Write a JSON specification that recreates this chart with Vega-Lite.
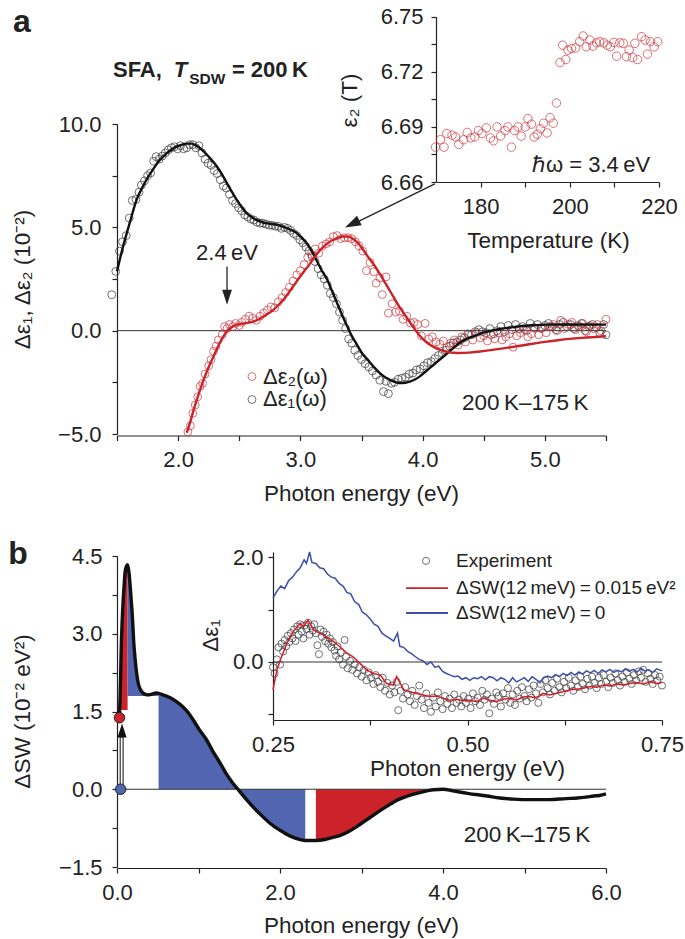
{
"$schema": "https://vega.github.io/schema/vega-lite/v6.json",
"width": 685, "height": 939, "padding": 0, "autosize": {"type": "none"},
"background": "white",
"config": {
  "font": "Liberation Sans",
  "view": {"stroke": null},
  "axis": {"domainColor": "#222", "tickColor": "#222", "labelColor": "#222", "titleColor": "#222", "labelFont": "Liberation Sans", "titleFont": "Liberation Sans", "labelFontSize": 22, "titleFontSize": 22.5, "titleFontWeight": "normal", "grid": false, "tickSize": 5, "domainWidth": 1.2, "tickWidth": 1.2, "labelFlush": false, "labelOverlap": false, "titleBaseline": "middle", "titleAlign": "center"},
  "text": {"font": "Liberation Sans", "color": "#222"}
},
"datasets": {
  "a_fit": [
    {"E":1.5,"v":2.87,"s":"e1"},{"E":1.54,"v":3.85,"s":"e1"},{"E":1.58,"v":4.72,"s":"e1"},{"E":1.62,"v":5.55,"s":"e1"},{"E":1.66,"v":6.33,"s":"e1"},{"E":1.7,"v":6.85,"s":"e1"},{"E":1.74,"v":7.29,"s":"e1"},{"E":1.8,"v":7.85,"s":"e1"},{"E":1.85,"v":8.26,"s":"e1"},{"E":1.9,"v":8.55,"s":"e1"},{"E":1.96,"v":8.82,"s":"e1"},{"E":2.02,"v":8.98,"s":"e1"},{"E":2.07,"v":9.05,"s":"e1"},{"E":2.11,"v":9.05,"s":"e1"},{"E":2.15,"v":8.95,"s":"e1"},{"E":2.19,"v":8.78,"s":"e1"},{"E":2.23,"v":8.55,"s":"e1"},{"E":2.28,"v":8.22,"s":"e1"},{"E":2.32,"v":7.92,"s":"e1"},{"E":2.36,"v":7.55,"s":"e1"},{"E":2.4,"v":7.13,"s":"e1"},{"E":2.44,"v":6.72,"s":"e1"},{"E":2.48,"v":6.33,"s":"e1"},{"E":2.52,"v":5.98,"s":"e1"},{"E":2.56,"v":5.68,"s":"e1"},{"E":2.6,"v":5.5,"s":"e1"},{"E":2.64,"v":5.36,"s":"e1"},{"E":2.68,"v":5.27,"s":"e1"},{"E":2.72,"v":5.2,"s":"e1"},{"E":2.77,"v":5.16,"s":"e1"},{"E":2.81,"v":5.12,"s":"e1"},{"E":2.85,"v":5.05,"s":"e1"},{"E":2.89,"v":4.96,"s":"e1"},{"E":2.93,"v":4.86,"s":"e1"},{"E":2.97,"v":4.72,"s":"e1"},{"E":3.01,"v":4.5,"s":"e1"},{"E":3.05,"v":4.24,"s":"e1"},{"E":3.09,"v":3.88,"s":"e1"},{"E":3.13,"v":3.43,"s":"e1"},{"E":3.17,"v":2.96,"s":"e1"},{"E":3.22,"v":2.46,"s":"e1"},{"E":3.26,"v":1.9,"s":"e1"},{"E":3.3,"v":1.34,"s":"e1"},{"E":3.34,"v":0.77,"s":"e1"},{"E":3.38,"v":0.25,"s":"e1"},{"E":3.42,"v":-0.25,"s":"e1"},{"E":3.46,"v":-0.65,"s":"e1"},{"E":3.5,"v":-1.05,"s":"e1"},{"E":3.55,"v":-1.4,"s":"e1"},{"E":3.6,"v":-1.75,"s":"e1"},{"E":3.65,"v":-2.05,"s":"e1"},{"E":3.7,"v":-2.28,"s":"e1"},{"E":3.75,"v":-2.43,"s":"e1"},{"E":3.81,"v":-2.53,"s":"e1"},{"E":3.86,"v":-2.52,"s":"e1"},{"E":3.9,"v":-2.45,"s":"e1"},{"E":3.94,"v":-2.35,"s":"e1"},{"E":3.98,"v":-2.2,"s":"e1"},{"E":4.02,"v":-2.0,"s":"e1"},{"E":4.06,"v":-1.8,"s":"e1"},{"E":4.1,"v":-1.6,"s":"e1"},{"E":4.14,"v":-1.4,"s":"e1"},{"E":4.18,"v":-1.2,"s":"e1"},{"E":4.22,"v":-1.0,"s":"e1"},{"E":4.26,"v":-0.8,"s":"e1"},{"E":4.3,"v":-0.6,"s":"e1"},{"E":4.34,"v":-0.46,"s":"e1"},{"E":4.38,"v":-0.35,"s":"e1"},{"E":4.44,"v":-0.22,"s":"e1"},{"E":4.49,"v":-0.11,"s":"e1"},{"E":4.56,"v":0.0,"s":"e1"},{"E":4.63,"v":0.08,"s":"e1"},{"E":4.71,"v":0.15,"s":"e1"},{"E":4.79,"v":0.21,"s":"e1"},{"E":4.9,"v":0.26,"s":"e1"},{"E":5.01,"v":0.29,"s":"e1"},{"E":5.2,"v":0.3,"s":"e1"},{"E":5.5,"v":0.29,"s":"e1"},
    {"E":2.07,"v":-4.94,"s":"e2"},{"E":2.1,"v":-4.4,"s":"e2"},{"E":2.12,"v":-3.98,"s":"e2"},{"E":2.15,"v":-3.4,"s":"e2"},{"E":2.18,"v":-2.85,"s":"e2"},{"E":2.23,"v":-2.05,"s":"e2"},{"E":2.29,"v":-1.24,"s":"e2"},{"E":2.34,"v":-0.6,"s":"e2"},{"E":2.4,"v":-0.03,"s":"e2"},{"E":2.45,"v":0.21,"s":"e2"},{"E":2.49,"v":0.3,"s":"e2"},{"E":2.53,"v":0.34,"s":"e2"},{"E":2.58,"v":0.39,"s":"e2"},{"E":2.62,"v":0.45,"s":"e2"},{"E":2.66,"v":0.55,"s":"e2"},{"E":2.7,"v":0.69,"s":"e2"},{"E":2.74,"v":0.84,"s":"e2"},{"E":2.78,"v":1.01,"s":"e2"},{"E":2.82,"v":1.24,"s":"e2"},{"E":2.86,"v":1.5,"s":"e2"},{"E":2.9,"v":1.8,"s":"e2"},{"E":2.94,"v":2.14,"s":"e2"},{"E":2.98,"v":2.47,"s":"e2"},{"E":3.02,"v":2.79,"s":"e2"},{"E":3.07,"v":3.17,"s":"e2"},{"E":3.11,"v":3.51,"s":"e2"},{"E":3.15,"v":3.82,"s":"e2"},{"E":3.19,"v":4.07,"s":"e2"},{"E":3.23,"v":4.26,"s":"e2"},{"E":3.27,"v":4.4,"s":"e2"},{"E":3.31,"v":4.5,"s":"e2"},{"E":3.35,"v":4.56,"s":"e2"},{"E":3.39,"v":4.55,"s":"e2"},{"E":3.43,"v":4.45,"s":"e2"},{"E":3.47,"v":4.25,"s":"e2"},{"E":3.51,"v":3.95,"s":"e2"},{"E":3.55,"v":3.6,"s":"e2"},{"E":3.6,"v":3.2,"s":"e2"},{"E":3.65,"v":2.75,"s":"e2"},{"E":3.69,"v":2.35,"s":"e2"},{"E":3.73,"v":1.95,"s":"e2"},{"E":3.77,"v":1.55,"s":"e2"},{"E":3.81,"v":1.15,"s":"e2"},{"E":3.86,"v":0.72,"s":"e2"},{"E":3.9,"v":0.37,"s":"e2"},{"E":3.94,"v":0.04,"s":"e2"},{"E":3.98,"v":-0.27,"s":"e2"},{"E":4.02,"v":-0.5,"s":"e2"},{"E":4.06,"v":-0.68,"s":"e2"},{"E":4.1,"v":-0.82,"s":"e2"},{"E":4.14,"v":-0.92,"s":"e2"},{"E":4.18,"v":-1.0,"s":"e2"},{"E":4.22,"v":-1.05,"s":"e2"},{"E":4.26,"v":-1.07,"s":"e2"},{"E":4.3,"v":-1.08,"s":"e2"},{"E":4.38,"v":-1.06,"s":"e2"},{"E":4.45,"v":-1.02,"s":"e2"},{"E":4.57,"v":-0.93,"s":"e2"},{"E":4.7,"v":-0.82,"s":"e2"},{"E":4.85,"v":-0.68,"s":"e2"},{"E":5.0,"v":-0.54,"s":"e2"},{"E":5.12,"v":-0.45,"s":"e2"},{"E":5.3,"v":-0.35,"s":"e2"},{"E":5.5,"v":-0.27,"s":"e2"}
  ],
  "a_pts": [
    {"E":1.457,"v":1.74,"s":"e1"},{"E":1.49,"v":2.87,"s":"e1"},{"E":1.52,"v":3.85,"s":"e1"},{"E":1.545,"v":4.3,"s":"e1"},{"E":1.575,"v":4.6,"s":"e1"},{"E":1.6,"v":5.45,"s":"e1"},{"E":1.625,"v":6.3,"s":"e1"},{"E":1.655,"v":6.35,"s":"e1"},{"E":1.68,"v":6.7,"s":"e1"},{"E":1.7,"v":7.05,"s":"e1"},{"E":1.725,"v":7.25,"s":"e1"},{"E":1.75,"v":7.5,"s":"e1"},{"E":1.775,"v":7.63,"s":"e1"},{"E":1.8,"v":8.2,"s":"e1"},{"E":1.82,"v":8.42,"s":"e1"},{"E":1.845,"v":8.3,"s":"e1"},{"E":1.87,"v":8.45,"s":"e1"},{"E":1.895,"v":8.6,"s":"e1"},{"E":1.92,"v":8.75,"s":"e1"},{"E":1.945,"v":8.85,"s":"e1"},{"E":1.97,"v":8.9,"s":"e1"},{"E":1.995,"v":8.8,"s":"e1"},{"E":2.02,"v":8.95,"s":"e1"},{"E":2.045,"v":8.8,"s":"e1"},{"E":2.07,"v":8.85,"s":"e1"},{"E":2.095,"v":9.0,"s":"e1"},{"E":2.12,"v":9.0,"s":"e1"},{"E":2.145,"v":8.85,"s":"e1"},{"E":2.17,"v":8.95,"s":"e1"},{"E":2.195,"v":8.6,"s":"e1"},{"E":2.22,"v":8.3,"s":"e1"},{"E":2.245,"v":8.1,"s":"e1"},{"E":2.27,"v":8.0,"s":"e1"},{"E":2.295,"v":7.75,"s":"e1"},{"E":2.32,"v":7.6,"s":"e1"},{"E":2.345,"v":7.3,"s":"e1"},{"E":2.37,"v":7.0,"s":"e1"},{"E":2.395,"v":6.9,"s":"e1"},{"E":2.42,"v":6.6,"s":"e1"},{"E":2.445,"v":6.3,"s":"e1"},{"E":2.47,"v":6.15,"s":"e1"},{"E":2.495,"v":5.95,"s":"e1"},{"E":2.52,"v":5.8,"s":"e1"},{"E":2.545,"v":5.6,"s":"e1"},{"E":2.57,"v":5.5,"s":"e1"},{"E":2.595,"v":5.4,"s":"e1"},{"E":2.62,"v":5.35,"s":"e1"},{"E":2.645,"v":5.25,"s":"e1"},{"E":2.67,"v":5.2,"s":"e1"},{"E":2.695,"v":5.2,"s":"e1"},{"E":2.72,"v":5.15,"s":"e1"},{"E":2.745,"v":5.1,"s":"e1"},{"E":2.77,"v":5.1,"s":"e1"},{"E":2.795,"v":5.05,"s":"e1"},{"E":2.82,"v":5.05,"s":"e1"},{"E":2.845,"v":4.95,"s":"e1"},{"E":2.87,"v":5.0,"s":"e1"},{"E":2.895,"v":4.95,"s":"e1"},{"E":2.92,"v":4.85,"s":"e1"},{"E":2.945,"v":4.7,"s":"e1"},{"E":2.97,"v":4.6,"s":"e1"},{"E":2.995,"v":4.4,"s":"e1"},{"E":3.02,"v":4.25,"s":"e1"},{"E":3.045,"v":4.05,"s":"e1"},{"E":3.07,"v":3.85,"s":"e1"},{"E":3.095,"v":3.6,"s":"e1"},{"E":3.12,"v":3.35,"s":"e1"},{"E":3.145,"v":3.0,"s":"e1"},{"E":3.17,"v":2.7,"s":"e1"},{"E":3.195,"v":2.5,"s":"e1"},{"E":3.22,"v":2.2,"s":"e1"},{"E":3.245,"v":1.8,"s":"e1"},{"E":3.27,"v":1.6,"s":"e1"},{"E":3.295,"v":1.3,"s":"e1"},{"E":3.32,"v":0.9,"s":"e1"},{"E":3.345,"v":0.5,"s":"e1"},{"E":3.37,"v":0.1,"s":"e1"},{"E":3.395,"v":-0.4,"s":"e1"},{"E":3.42,"v":-0.6,"s":"e1"},{"E":3.445,"v":-0.95,"s":"e1"},{"E":3.47,"v":-1.2,"s":"e1"},{"E":3.5,"v":-1.4,"s":"e1"},{"E":3.53,"v":-1.6,"s":"e1"},{"E":3.56,"v":-1.75,"s":"e1"},{"E":3.59,"v":-1.95,"s":"e1"},{"E":3.62,"v":-2.15,"s":"e1"},{"E":3.65,"v":-2.4,"s":"e1"},{"E":3.68,"v":-2.95,"s":"e1"},{"E":3.7,"v":-2.45,"s":"e1"},{"E":3.72,"v":-3.05,"s":"e1"},{"E":3.745,"v":-2.55,"s":"e1"},{"E":3.77,"v":-2.5,"s":"e1"},{"E":3.8,"v":-2.35,"s":"e1"},{"E":3.83,"v":-2.3,"s":"e1"},{"E":3.86,"v":-2.25,"s":"e1"},{"E":3.89,"v":-2.1,"s":"e1"},{"E":3.92,"v":-2.05,"s":"e1"},{"E":3.95,"v":-1.9,"s":"e1"},{"E":3.98,"v":-1.85,"s":"e1"},{"E":4.01,"v":-1.7,"s":"e1"},{"E":4.04,"v":-1.55,"s":"e1"},{"E":4.07,"v":-1.5,"s":"e1"},{"E":4.1,"v":-1.35,"s":"e1"},{"E":4.13,"v":-1.2,"s":"e1"},{"E":4.16,"v":-1.1,"s":"e1"},{"E":4.19,"v":-0.95,"s":"e1"},{"E":4.22,"v":-0.75,"s":"e1"},{"E":4.25,"v":-0.6,"s":"e1"},{"E":4.28,"v":-0.55,"s":"e1"},{"E":4.31,"v":-0.45,"s":"e1"},{"E":4.34,"v":-0.35,"s":"e1"},{"E":4.37,"v":-0.15,"s":"e1"},{"E":4.4,"v":-0.2,"s":"e1"},{"E":4.43,"v":-0.05,"s":"e1"},{"E":4.46,"v":0.05,"s":"e1"},{"E":4.49,"v":-0.05,"s":"e1"},{"E":4.52,"v":-0.1,"s":"e1"},{"E":4.55,"v":0.1,"s":"e1"},{"E":4.58,"v":-0.15,"s":"e1"},{"E":4.61,"v":0.0,"s":"e1"},{"E":4.64,"v":0.2,"s":"e1"},{"E":4.67,"v":-0.05,"s":"e1"},{"E":4.7,"v":0.25,"s":"e1"},{"E":4.73,"v":0.05,"s":"e1"},{"E":4.76,"v":0.3,"s":"e1"},{"E":4.79,"v":0.1,"s":"e1"},{"E":4.82,"v":0.2,"s":"e1"},{"E":4.85,"v":0.0,"s":"e1"},{"E":4.88,"v":0.35,"s":"e1"},{"E":4.91,"v":0.15,"s":"e1"},{"E":4.94,"v":0.3,"s":"e1"},{"E":4.97,"v":0.1,"s":"e1"},{"E":5.0,"v":0.25,"s":"e1"},{"E":5.03,"v":0.35,"s":"e1"},{"E":5.06,"v":0.2,"s":"e1"},{"E":5.09,"v":0.05,"s":"e1"},{"E":5.12,"v":0.3,"s":"e1"},{"E":5.15,"v":0.4,"s":"e1"},{"E":5.18,"v":0.2,"s":"e1"},{"E":5.21,"v":0.3,"s":"e1"},{"E":5.24,"v":0.1,"s":"e1"},{"E":5.27,"v":0.25,"s":"e1"},{"E":5.3,"v":0.35,"s":"e1"},{"E":5.33,"v":0.0,"s":"e1"},{"E":5.36,"v":0.2,"s":"e1"},{"E":5.39,"v":0.3,"s":"e1"},{"E":5.42,"v":0.15,"s":"e1"},{"E":5.45,"v":-0.1,"s":"e1"},{"E":5.48,"v":0.3,"s":"e1"},{"E":5.5,"v":-0.2,"s":"e1"},
    {"E":2.08,"v":-4.9,"s":"e2"},{"E":2.1,"v":-4.6,"s":"e2"},{"E":2.12,"v":-4.0,"s":"e2"},{"E":2.14,"v":-3.6,"s":"e2"},{"E":2.16,"v":-3.2,"s":"e2"},{"E":2.18,"v":-2.7,"s":"e2"},{"E":2.2,"v":-2.55,"s":"e2"},{"E":2.22,"v":-2.1,"s":"e2"},{"E":2.25,"v":-1.7,"s":"e2"},{"E":2.27,"v":-1.4,"s":"e2"},{"E":2.29,"v":-1.0,"s":"e2"},{"E":2.31,"v":-0.75,"s":"e2"},{"E":2.33,"v":-0.45,"s":"e2"},{"E":2.36,"v":-0.2,"s":"e2"},{"E":2.38,"v":0.2,"s":"e2"},{"E":2.4,"v":0.1,"s":"e2"},{"E":2.42,"v":0.3,"s":"e2"},{"E":2.45,"v":0.2,"s":"e2"},{"E":2.47,"v":0.35,"s":"e2"},{"E":2.5,"v":0.25,"s":"e2"},{"E":2.52,"v":0.4,"s":"e2"},{"E":2.55,"v":0.55,"s":"e2"},{"E":2.58,"v":0.7,"s":"e2"},{"E":2.61,"v":0.6,"s":"e2"},{"E":2.64,"v":0.5,"s":"e2"},{"E":2.67,"v":0.7,"s":"e2"},{"E":2.7,"v":0.85,"s":"e2"},{"E":2.73,"v":1.0,"s":"e2"},{"E":2.76,"v":1.15,"s":"e2"},{"E":2.79,"v":1.1,"s":"e2"},{"E":2.82,"v":1.4,"s":"e2"},{"E":2.85,"v":1.6,"s":"e2"},{"E":2.88,"v":1.85,"s":"e2"},{"E":2.91,"v":2.1,"s":"e2"},{"E":2.94,"v":2.4,"s":"e2"},{"E":2.97,"v":2.7,"s":"e2"},{"E":3.0,"v":2.9,"s":"e2"},{"E":3.03,"v":3.2,"s":"e2"},{"E":3.06,"v":3.55,"s":"e2"},{"E":3.09,"v":3.7,"s":"e2"},{"E":3.12,"v":3.95,"s":"e2"},{"E":3.15,"v":3.75,"s":"e2"},{"E":3.18,"v":4.1,"s":"e2"},{"E":3.21,"v":4.2,"s":"e2"},{"E":3.24,"v":4.3,"s":"e2"},{"E":3.27,"v":4.55,"s":"e2"},{"E":3.3,"v":4.6,"s":"e2"},{"E":3.33,"v":4.45,"s":"e2"},{"E":3.36,"v":4.5,"s":"e2"},{"E":3.39,"v":4.5,"s":"e2"},{"E":3.42,"v":4.45,"s":"e2"},{"E":3.45,"v":4.3,"s":"e2"},{"E":3.48,"v":4.1,"s":"e2"},{"E":3.51,"v":3.85,"s":"e2"},{"E":3.54,"v":2.9,"s":"e2"},{"E":3.57,"v":3.3,"s":"e2"},{"E":3.6,"v":2.85,"s":"e2"},{"E":3.62,"v":2.3,"s":"e2"},{"E":3.65,"v":2.55,"s":"e2"},{"E":3.67,"v":1.75,"s":"e2"},{"E":3.7,"v":2.6,"s":"e2"},{"E":3.72,"v":0.85,"s":"e2"},{"E":3.75,"v":1.3,"s":"e2"},{"E":3.78,"v":0.9,"s":"e2"},{"E":3.81,"v":0.95,"s":"e2"},{"E":3.84,"v":0.55,"s":"e2"},{"E":3.87,"v":0.7,"s":"e2"},{"E":3.9,"v":0.37,"s":"e2"},{"E":3.93,"v":0.4,"s":"e2"},{"E":3.96,"v":0.3,"s":"e2"},{"E":3.99,"v":-0.25,"s":"e2"},{"E":4.02,"v":0.35,"s":"e2"},{"E":4.05,"v":-0.4,"s":"e2"},{"E":4.08,"v":-0.3,"s":"e2"},{"E":4.11,"v":-0.55,"s":"e2"},{"E":4.14,"v":-0.65,"s":"e2"},{"E":4.17,"v":-0.5,"s":"e2"},{"E":4.2,"v":-0.8,"s":"e2"},{"E":4.23,"v":-0.6,"s":"e2"},{"E":4.26,"v":-0.45,"s":"e2"},{"E":4.29,"v":-0.7,"s":"e2"},{"E":4.32,"v":-0.3,"s":"e2"},{"E":4.35,"v":-0.55,"s":"e2"},{"E":4.38,"v":-0.2,"s":"e2"},{"E":4.41,"v":-0.45,"s":"e2"},{"E":4.44,"v":-0.1,"s":"e2"},{"E":4.47,"v":-0.35,"s":"e2"},{"E":4.5,"v":-0.25,"s":"e2"},{"E":4.53,"v":-0.5,"s":"e2"},{"E":4.56,"v":-0.2,"s":"e2"},{"E":4.59,"v":-0.4,"s":"e2"},{"E":4.62,"v":-0.1,"s":"e2"},{"E":4.65,"v":-0.45,"s":"e2"},{"E":4.68,"v":-0.3,"s":"e2"},{"E":4.71,"v":-0.15,"s":"e2"},{"E":4.74,"v":-0.8,"s":"e2"},{"E":4.77,"v":-0.25,"s":"e2"},{"E":4.8,"v":-0.1,"s":"e2"},{"E":4.83,"v":0.05,"s":"e2"},{"E":4.86,"v":-0.3,"s":"e2"},{"E":4.89,"v":-0.15,"s":"e2"},{"E":4.92,"v":0.1,"s":"e2"},{"E":4.95,"v":-0.2,"s":"e2"},{"E":4.98,"v":0.15,"s":"e2"},{"E":5.01,"v":-0.1,"s":"e2"},{"E":5.04,"v":0.2,"s":"e2"},{"E":5.07,"v":0.3,"s":"e2"},{"E":5.1,"v":0.0,"s":"e2"},{"E":5.13,"v":0.5,"s":"e2"},{"E":5.16,"v":0.1,"s":"e2"},{"E":5.19,"v":0.3,"s":"e2"},{"E":5.22,"v":0.4,"s":"e2"},{"E":5.25,"v":0.05,"s":"e2"},{"E":5.28,"v":0.2,"s":"e2"},{"E":5.31,"v":0.35,"s":"e2"},{"E":5.34,"v":-0.05,"s":"e2"},{"E":5.37,"v":0.25,"s":"e2"},{"E":5.4,"v":0.1,"s":"e2"},{"E":5.43,"v":0.3,"s":"e2"},{"E":5.46,"v":0.0,"s":"e2"},{"E":5.5,"v":0.55,"s":"e2"}
  ],
  "a_ins": [
    {"T":169.9,"e":6.679},{"T":171.0,"e":6.683},{"T":171.8,"e":6.679},{"T":172.4,"e":6.6864},{"T":173.6,"e":6.6855},{"T":174.4,"e":6.6845},{"T":175.1,"e":6.6805},{"T":176.2,"e":6.683},{"T":177.0,"e":6.687},{"T":177.8,"e":6.684},{"T":178.7,"e":6.6845},{"T":179.5,"e":6.688},{"T":180.3,"e":6.6864},{"T":181.3,"e":6.6895},{"T":182.2,"e":6.684},{"T":182.9,"e":6.6824},{"T":183.7,"e":6.69},{"T":184.5,"e":6.6851},{"T":185.5,"e":6.688},{"T":186.1,"e":6.69},{"T":186.9,"e":6.679},{"T":187.6,"e":6.688},{"T":188.4,"e":6.69},{"T":189.1,"e":6.685},{"T":190.0,"e":6.69},{"T":190.6,"e":6.6945},{"T":191.4,"e":6.6915},{"T":192.0,"e":6.6845},{"T":192.7,"e":6.686},{"T":193.4,"e":6.689},{"T":194.1,"e":6.692},{"T":194.9,"e":6.6867},{"T":195.6,"e":6.695},{"T":196.3,"e":6.692},{"T":197.0,"e":6.703},{"T":197.8,"e":6.725},{"T":198.4,"e":6.7345},{"T":199.1,"e":6.7267},{"T":199.6,"e":6.7318},{"T":200.4,"e":6.7327},{"T":201.3,"e":6.733},{"T":202.2,"e":6.7364},{"T":203.0,"e":6.7395},{"T":203.7,"e":6.7336},{"T":204.5,"e":6.7373},{"T":205.2,"e":6.734},{"T":206.0,"e":6.7358},{"T":206.7,"e":6.7364},{"T":207.6,"e":6.7358},{"T":208.4,"e":6.7345},{"T":209.1,"e":6.7336},{"T":209.9,"e":6.736},{"T":210.5,"e":6.7285},{"T":211.2,"e":6.7358},{"T":212.0,"e":6.7355},{"T":212.7,"e":6.7282},{"T":213.3,"e":6.7318},{"T":214.1,"e":6.7278},{"T":214.6,"e":6.7355},{"T":215.2,"e":6.7267},{"T":216.1,"e":6.7391},{"T":216.9,"e":6.7373},{"T":217.4,"e":6.7296},{"T":218.1,"e":6.7364},{"T":218.9,"e":6.7336},{"T":219.7,"e":6.7364}
  ],
  "b_curve": [
    {"E":0.03,"v":1.4},{"E":0.045,"v":2.2},{"E":0.05,"v":2.6},{"E":0.065,"v":3.3},{"E":0.078,"v":3.7},{"E":0.09,"v":4.0},{"E":0.1,"v":4.2},{"E":0.115,"v":4.3},{"E":0.13,"v":4.33},{"E":0.145,"v":4.2},{"E":0.155,"v":4.05},{"E":0.17,"v":3.75},{"E":0.19,"v":3.3},{"E":0.205,"v":2.85},{"E":0.22,"v":2.55},{"E":0.24,"v":2.25},{"E":0.26,"v":2.05},{"E":0.285,"v":1.93},{"E":0.31,"v":1.87},{"E":0.35,"v":1.83},{"E":0.38,"v":1.82},{"E":0.42,"v":1.83},{"E":0.46,"v":1.85},{"E":0.48,"v":1.86},{"E":0.51,"v":1.85},{"E":0.55,"v":1.83},{"E":0.6,"v":1.8},{"E":0.66,"v":1.76},{"E":0.73,"v":1.69},{"E":0.8,"v":1.6},{"E":0.85,"v":1.52},{"E":0.93,"v":1.35},{"E":1.01,"v":1.15},{"E":1.1,"v":0.95},{"E":1.18,"v":0.72},{"E":1.26,"v":0.52},{"E":1.34,"v":0.3},{"E":1.42,"v":0.12},{"E":1.51,"v":-0.05},{"E":1.6,"v":-0.22},{"E":1.68,"v":-0.36},{"E":1.75,"v":-0.47},{"E":1.88,"v":-0.66},{"E":2.0,"v":-0.79},{"E":2.12,"v":-0.9},{"E":2.25,"v":-0.97},{"E":2.31,"v":-0.99},{"E":2.44,"v":-0.99},{"E":2.55,"v":-0.97},{"E":2.65,"v":-0.93},{"E":2.74,"v":-0.89},{"E":2.86,"v":-0.8},{"E":2.98,"v":-0.68},{"E":3.1,"v":-0.55},{"E":3.2,"v":-0.44},{"E":3.31,"v":-0.33},{"E":3.45,"v":-0.2},{"E":3.55,"v":-0.14},{"E":3.63,"v":-0.1},{"E":3.75,"v":-0.05},{"E":3.88,"v":-0.01},{"E":4.0,"v":0.0},{"E":4.12,"v":-0.03},{"E":4.3,"v":-0.08},{"E":4.54,"v":-0.13},{"E":4.7,"v":-0.17},{"E":4.86,"v":-0.19},{"E":5.1,"v":-0.2},{"E":5.3,"v":-0.2},{"E":5.51,"v":-0.18},{"E":5.65,"v":-0.17},{"E":5.76,"v":-0.15},{"E":5.85,"v":-0.13},{"E":5.92,"v":-0.12},{"E":6.0,"v":-0.09}
  ],
  "b_lines": [
    {"E":0.25,"v":1.22,"s":"blue"},{"E":0.255,"v":1.35,"s":"blue"},{"E":0.26,"v":1.45,"s":"blue"},{"E":0.265,"v":1.4,"s":"blue"},{"E":0.27,"v":1.55,"s":"blue"},{"E":0.275,"v":1.62,"s":"blue"},{"E":0.28,"v":1.72,"s":"blue"},{"E":0.285,"v":1.8,"s":"blue"},{"E":0.29,"v":1.95,"s":"blue"},{"E":0.293,"v":1.88,"s":"blue"},{"E":0.297,"v":2.1,"s":"blue"},{"E":0.3,"v":1.9,"s":"blue"},{"E":0.305,"v":1.88,"s":"blue"},{"E":0.31,"v":1.8,"s":"blue"},{"E":0.315,"v":1.78,"s":"blue"},{"E":0.32,"v":1.68,"s":"blue"},{"E":0.325,"v":1.62,"s":"blue"},{"E":0.33,"v":1.6,"s":"blue"},{"E":0.335,"v":1.5,"s":"blue"},{"E":0.34,"v":1.45,"s":"blue"},{"E":0.345,"v":1.33,"s":"blue"},{"E":0.35,"v":1.3,"s":"blue"},{"E":0.355,"v":1.15,"s":"blue"},{"E":0.36,"v":1.1,"s":"blue"},{"E":0.365,"v":0.95,"s":"blue"},{"E":0.37,"v":0.9,"s":"blue"},{"E":0.375,"v":0.82,"s":"blue"},{"E":0.38,"v":0.72,"s":"blue"},{"E":0.385,"v":0.68,"s":"blue"},{"E":0.39,"v":0.55,"s":"blue"},{"E":0.395,"v":0.5,"s":"blue"},{"E":0.4,"v":0.45,"s":"blue"},{"E":0.405,"v":0.4,"s":"blue"},{"E":0.41,"v":0.55,"s":"blue"},{"E":0.413,"v":0.3,"s":"blue"},{"E":0.418,"v":0.28,"s":"blue"},{"E":0.423,"v":0.2,"s":"blue"},{"E":0.428,"v":0.16,"s":"blue"},{"E":0.433,"v":0.1,"s":"blue"},{"E":0.438,"v":0.05,"s":"blue"},{"E":0.443,"v":0.02,"s":"blue"},{"E":0.448,"v":-0.05,"s":"blue"},{"E":0.453,"v":0.0,"s":"blue"},{"E":0.458,"v":-0.1,"s":"blue"},{"E":0.463,"v":-0.08,"s":"blue"},{"E":0.468,"v":-0.18,"s":"blue"},{"E":0.473,"v":-0.22,"s":"blue"},{"E":0.478,"v":-0.25,"s":"blue"},{"E":0.483,"v":-0.28,"s":"blue"},{"E":0.488,"v":-0.27,"s":"blue"},{"E":0.493,"v":-0.33,"s":"blue"},{"E":0.498,"v":-0.3,"s":"blue"},{"E":0.503,"v":-0.35,"s":"blue"},{"E":0.508,"v":-0.3,"s":"blue"},{"E":0.513,"v":-0.32,"s":"blue"},{"E":0.518,"v":-0.28,"s":"blue"},{"E":0.523,"v":-0.34,"s":"blue"},{"E":0.528,"v":-0.28,"s":"blue"},{"E":0.533,"v":-0.3,"s":"blue"},{"E":0.538,"v":-0.36,"s":"blue"},{"E":0.543,"v":-0.3,"s":"blue"},{"E":0.548,"v":-0.33,"s":"blue"},{"E":0.553,"v":-0.4,"s":"blue"},{"E":0.558,"v":-0.3,"s":"blue"},{"E":0.563,"v":-0.38,"s":"blue"},{"E":0.568,"v":-0.34,"s":"blue"},{"E":0.573,"v":-0.3,"s":"blue"},{"E":0.578,"v":-0.37,"s":"blue"},{"E":0.583,"v":-0.28,"s":"blue"},{"E":0.588,"v":-0.33,"s":"blue"},{"E":0.593,"v":-0.4,"s":"blue"},{"E":0.598,"v":-0.3,"s":"blue"},{"E":0.603,"v":-0.27,"s":"blue"},{"E":0.608,"v":-0.3,"s":"blue"},{"E":0.613,"v":-0.24,"s":"blue"},{"E":0.618,"v":-0.28,"s":"blue"},{"E":0.623,"v":-0.22,"s":"blue"},{"E":0.628,"v":-0.26,"s":"blue"},{"E":0.633,"v":-0.2,"s":"blue"},{"E":0.638,"v":-0.25,"s":"blue"},{"E":0.643,"v":-0.19,"s":"blue"},{"E":0.648,"v":-0.23,"s":"blue"},{"E":0.653,"v":-0.17,"s":"blue"},{"E":0.658,"v":-0.21,"s":"blue"},{"E":0.663,"v":-0.16,"s":"blue"},{"E":0.668,"v":-0.22,"s":"blue"},{"E":0.673,"v":-0.15,"s":"blue"},{"E":0.678,"v":-0.19,"s":"blue"},{"E":0.683,"v":-0.14,"s":"blue"},{"E":0.688,"v":-0.2,"s":"blue"},{"E":0.693,"v":-0.16,"s":"blue"},{"E":0.698,"v":-0.19,"s":"blue"},{"E":0.703,"v":-0.13,"s":"blue"},{"E":0.708,"v":-0.18,"s":"blue"},{"E":0.713,"v":-0.14,"s":"blue"},{"E":0.718,"v":-0.19,"s":"blue"},{"E":0.723,"v":-0.12,"s":"blue"},{"E":0.728,"v":-0.17,"s":"blue"},{"E":0.733,"v":-0.15,"s":"blue"},{"E":0.738,"v":-0.2,"s":"blue"},{"E":0.743,"v":-0.13,"s":"blue"},{"E":0.75,"v":-0.17,"s":"blue"},
    {"E":0.25,"v":-0.53,"s":"red"},{"E":0.255,"v":-0.15,"s":"red"},{"E":0.261,"v":0.1,"s":"red"},{"E":0.268,"v":0.36,"s":"red"},{"E":0.276,"v":0.58,"s":"red"},{"E":0.285,"v":0.74,"s":"red"},{"E":0.289,"v":0.67,"s":"red"},{"E":0.295,"v":0.8,"s":"red"},{"E":0.302,"v":0.61,"s":"red"},{"E":0.31,"v":0.55,"s":"red"},{"E":0.319,"v":0.48,"s":"red"},{"E":0.328,"v":0.39,"s":"red"},{"E":0.336,"v":0.29,"s":"red"},{"E":0.345,"v":0.17,"s":"red"},{"E":0.353,"v":0.1,"s":"red"},{"E":0.362,"v":-0.03,"s":"red"},{"E":0.37,"v":-0.15,"s":"red"},{"E":0.379,"v":-0.22,"s":"red"},{"E":0.388,"v":-0.25,"s":"red"},{"E":0.396,"v":-0.41,"s":"red"},{"E":0.405,"v":-0.44,"s":"red"},{"E":0.409,"v":-0.28,"s":"red"},{"E":0.418,"v":-0.53,"s":"red"},{"E":0.426,"v":-0.57,"s":"red"},{"E":0.435,"v":-0.6,"s":"red"},{"E":0.443,"v":-0.63,"s":"red"},{"E":0.452,"v":-0.66,"s":"red"},{"E":0.46,"v":-0.65,"s":"red"},{"E":0.469,"v":-0.69,"s":"red"},{"E":0.477,"v":-0.73,"s":"red"},{"E":0.486,"v":-0.71,"s":"red"},{"E":0.495,"v":-0.74,"s":"red"},{"E":0.503,"v":-0.73,"s":"red"},{"E":0.512,"v":-0.76,"s":"red"},{"E":0.52,"v":-0.69,"s":"red"},{"E":0.529,"v":-0.73,"s":"red"},{"E":0.537,"v":-0.76,"s":"red"},{"E":0.546,"v":-0.71,"s":"red"},{"E":0.555,"v":-0.69,"s":"red"},{"E":0.563,"v":-0.73,"s":"red"},{"E":0.571,"v":-0.67,"s":"red"},{"E":0.58,"v":-0.66,"s":"red"},{"E":0.589,"v":-0.69,"s":"red"},{"E":0.597,"v":-0.6,"s":"red"},{"E":0.606,"v":-0.63,"s":"red"},{"E":0.615,"v":-0.59,"s":"red"},{"E":0.623,"v":-0.57,"s":"red"},{"E":0.632,"v":-0.53,"s":"red"},{"E":0.64,"v":-0.52,"s":"red"},{"E":0.649,"v":-0.5,"s":"red"},{"E":0.657,"v":-0.47,"s":"red"},{"E":0.666,"v":-0.48,"s":"red"},{"E":0.675,"v":-0.44,"s":"red"},{"E":0.683,"v":-0.46,"s":"red"},{"E":0.692,"v":-0.42,"s":"red"},{"E":0.7,"v":-0.44,"s":"red"},{"E":0.709,"v":-0.41,"s":"red"},{"E":0.717,"v":-0.39,"s":"red"},{"E":0.726,"v":-0.42,"s":"red"},{"E":0.735,"v":-0.38,"s":"red"},{"E":0.743,"v":-0.41,"s":"red"},{"E":0.75,"v":-0.39,"s":"red"}
  ],
  "b_pts": [
    {"E":0.25,"v":-0.1},{"E":0.252,"v":-0.22},{"E":0.255,"v":0.05},{"E":0.257,"v":0.28},{"E":0.259,"v":-0.05},{"E":0.261,"v":0.35},{"E":0.263,"v":0.2},{"E":0.265,"v":0.42},{"E":0.267,"v":0.3},{"E":0.269,"v":0.5},{"E":0.271,"v":0.38},{"E":0.273,"v":0.55},{"E":0.275,"v":0.45},{"E":0.277,"v":0.62},{"E":0.279,"v":0.4},{"E":0.281,"v":0.68},{"E":0.283,"v":0.52},{"E":0.285,"v":0.72},{"E":0.287,"v":0.58},{"E":0.289,"v":0.45},{"E":0.291,"v":0.7},{"E":0.293,"v":0.63},{"E":0.295,"v":0.75},{"E":0.297,"v":0.52},{"E":0.299,"v":0.68},{"E":0.301,"v":0.6},{"E":0.303,"v":0.72},{"E":0.305,"v":0.55},{"E":0.307,"v":0.32},{"E":0.309,"v":0.15},{"E":0.311,"v":0.62},{"E":0.313,"v":0.48},{"E":0.315,"v":0.58},{"E":0.317,"v":0.4},{"E":0.319,"v":0.52},{"E":0.321,"v":0.35},{"E":0.323,"v":0.45},{"E":0.325,"v":0.28},{"E":0.327,"v":0.38},{"E":0.329,"v":0.22},{"E":0.331,"v":0.12},{"E":0.333,"v":0.3},{"E":0.335,"v":0.05},{"E":0.337,"v":0.18},{"E":0.34,"v":-0.05},{"E":0.342,"v":0.42},{"E":0.344,"v":0.1},{"E":0.346,"v":-0.12},{"E":0.349,"v":0.02},{"E":0.352,"v":-0.15},{"E":0.355,"v":-0.05},{"E":0.358,"v":-0.22},{"E":0.361,"v":-0.1},{"E":0.364,"v":-0.28},{"E":0.367,"v":-0.15},{"E":0.37,"v":-0.35},{"E":0.373,"v":-0.2},{"E":0.376,"v":-0.3},{"E":0.379,"v":-0.42},{"E":0.382,"v":-0.25},{"E":0.385,"v":-0.38},{"E":0.388,"v":-0.48},{"E":0.391,"v":-0.3},{"E":0.394,"v":-0.55},{"E":0.397,"v":-0.4},{"E":0.4,"v":-0.62},{"E":0.403,"v":-0.45},{"E":0.406,"v":-0.58},{"E":0.409,"v":-0.38},{"E":0.411,"v":-0.92},{"E":0.414,"v":-0.55},{"E":0.417,"v":-0.7},{"E":0.42,"v":-0.48},{"E":0.423,"v":-0.62},{"E":0.426,"v":-0.75},{"E":0.429,"v":-0.55},{"E":0.432,"v":-0.82},{"E":0.435,"v":-0.65},{"E":0.438,"v":-0.45},{"E":0.441,"v":-0.72},{"E":0.444,"v":-0.88},{"E":0.447,"v":-0.6},{"E":0.45,"v":-0.78},{"E":0.453,"v":-0.95},{"E":0.456,"v":-0.68},{"E":0.459,"v":-0.85},{"E":0.462,"v":-0.58},{"E":0.465,"v":-0.75},{"E":0.468,"v":-0.9},{"E":0.471,"v":-0.65},{"E":0.474,"v":-0.8},{"E":0.477,"v":-0.7},{"E":0.48,"v":-0.88},{"E":0.483,"v":-0.62},{"E":0.486,"v":-0.78},{"E":0.489,"v":-0.72},{"E":0.492,"v":-0.85},{"E":0.495,"v":-0.65},{"E":0.498,"v":-0.78},{"E":0.501,"v":-0.7},{"E":0.504,"v":-0.88},{"E":0.507,"v":-0.6},{"E":0.51,"v":-0.75},{"E":0.513,"v":-0.68},{"E":0.516,"v":-0.82},{"E":0.519,"v":-0.55},{"E":0.522,"v":-0.72},{"E":0.525,"v":-0.62},{"E":0.528,"v":-0.98},{"E":0.531,"v":-0.7},{"E":0.534,"v":-0.8},{"E":0.537,"v":-0.58},{"E":0.54,"v":-0.65},{"E":0.543,"v":-0.85},{"E":0.546,"v":-0.6},{"E":0.549,"v":-0.72},{"E":0.552,"v":-0.5},{"E":0.555,"v":-0.78},{"E":0.558,"v":-0.62},{"E":0.561,"v":-0.82},{"E":0.564,"v":-0.55},{"E":0.567,"v":-0.7},{"E":0.57,"v":-0.48},{"E":0.573,"v":-0.65},{"E":0.576,"v":-0.75},{"E":0.579,"v":-0.52},{"E":0.582,"v":-0.68},{"E":0.585,"v":-0.45},{"E":0.588,"v":-0.6},{"E":0.591,"v":-0.78},{"E":0.594,"v":-0.42},{"E":0.597,"v":-0.58},{"E":0.6,"v":-0.35},{"E":0.603,"v":-0.5},{"E":0.606,"v":-0.62},{"E":0.609,"v":-0.4},{"E":0.612,"v":-0.55},{"E":0.615,"v":-0.32},{"E":0.618,"v":-0.48},{"E":0.621,"v":-0.58},{"E":0.624,"v":-0.38},{"E":0.627,"v":-0.5},{"E":0.63,"v":-0.3},{"E":0.633,"v":-0.45},{"E":0.636,"v":-0.55},{"E":0.639,"v":-0.35},{"E":0.642,"v":-0.48},{"E":0.645,"v":-0.28},{"E":0.648,"v":-0.42},{"E":0.651,"v":-0.52},{"E":0.654,"v":-0.32},{"E":0.657,"v":-0.45},{"E":0.66,"v":-0.28},{"E":0.663,"v":-0.4},{"E":0.666,"v":-0.5},{"E":0.669,"v":-0.3},{"E":0.672,"v":-0.42},{"E":0.675,"v":-0.25},{"E":0.678,"v":-0.38},{"E":0.681,"v":-0.48},{"E":0.684,"v":-0.3},{"E":0.687,"v":-0.4},{"E":0.69,"v":-0.22},{"E":0.693,"v":-0.35},{"E":0.696,"v":-0.45},{"E":0.699,"v":-0.28},{"E":0.702,"v":-0.38},{"E":0.705,"v":-0.2},{"E":0.708,"v":-0.32},{"E":0.711,"v":-0.42},{"E":0.714,"v":-0.25},{"E":0.717,"v":-0.35},{"E":0.72,"v":-0.18},{"E":0.723,"v":-0.3},{"E":0.726,"v":-0.15},{"E":0.729,"v":-0.38},{"E":0.732,"v":-0.22},{"E":0.735,"v":-0.32},{"E":0.738,"v":-0.42},{"E":0.741,"v":-0.25},{"E":0.744,"v":-0.35},{"E":0.747,"v":-0.28},{"E":0.75,"v":-0.45}
  ]
},
"layer": [
  {
    "layer": [
      {"data": {"values": [{}]}, "mark": {"type": "rule", "color": "#333", "strokeWidth": 1},
       "encoding": {
         "x": {"datum": 1.5, "type": "quantitative", "scale": {"domain": [1.5, 5.5], "range": [117, 606], "zero": false, "nice": false},
               "axis": {"orient": "bottom", "offset": -503.5, "values": [1.5,2,2.5,3,3.5,4,4.5,5,5.5], "labelExpr": "datum.value % 1 === 0 ? format(datum.value, '.1f') : ''", "labelPadding": 9, "title": "Photon energy (eV)", "titleX": 361, "titleY": 58}},
         "x2": {"datum": 5.5},
         "y": {"datum": 0, "type": "quantitative", "scale": {"domain": [-5, 10], "range": [434, 124], "zero": false, "nice": false},
               "axis": {"orient": "left", "offset": -117, "values": [-5,-2.5,0,2.5,5,7.5,10], "labelExpr": "datum.value % 5 === 0 ? format(datum.value, '.1f') : ''", "labelPadding": 11, "title": "Δε₁, Δε₂ (10⁻²)", "titleX": -95, "titleY": 279, "titleAngle": -90}}
       }},
      {"data": {"name": "a_pts"}, "transform": [{"filter": "datum.s === 'e1'"}], "mark": {"type": "point", "shape": "circle", "filled": false, "stroke": "#333", "strokeWidth": 1, "size": 62},
       "encoding": {"x": {"field": "E", "type": "quantitative"}, "y": {"field": "v", "type": "quantitative"}}},
      {"data": {"name": "a_pts"}, "transform": [{"filter": "datum.s === 'e2'"}], "mark": {"type": "point", "shape": "circle", "filled": false, "stroke": "#d0313a", "strokeWidth": 1, "size": 62},
       "encoding": {"x": {"field": "E", "type": "quantitative"}, "y": {"field": "v", "type": "quantitative"}}},
      {"data": {"name": "a_fit"}, "transform": [{"filter": "datum.s === 'e1'"}], "mark": {"type": "line", "color": "#111", "strokeWidth": 2.4, "interpolate": "monotone"},
       "encoding": {"x": {"field": "E", "type": "quantitative"}, "y": {"field": "v", "type": "quantitative"}}},
      {"data": {"name": "a_fit"}, "transform": [{"filter": "datum.s === 'e2'"}], "mark": {"type": "line", "color": "#cc2229", "strokeWidth": 2.4, "interpolate": "monotone"},
       "encoding": {"x": {"field": "E", "type": "quantitative"}, "y": {"field": "v", "type": "quantitative"}}},
      {"data": {"values": [{}]}, "mark": {"type": "rule", "color": "#222", "strokeWidth": 1.3},
       "encoding": {"x": {"datum": 2.4, "type": "quantitative"}, "y": {"datum": 3.09, "type": "quantitative"}, "y2": {"datum": 1.7}}},
      {"data": {"values": [{}]}, "mark": {"type": "point", "shape": "M0,0L-0.65,2L0.65,2Z", "filled": true, "color": "#222", "opacity": 1, "size": 225, "angle": 180},
       "encoding": {"x": {"datum": 2.4, "type": "quantitative"}, "y": {"datum": 1.26, "type": "quantitative"}}},
      {"data": {"values": [{}]}, "mark": {"type": "rule", "color": "#222", "strokeWidth": 1.3},
       "encoding": {"x": {"datum": 4.1, "type": "quantitative"}, "y": {"datum": 7.1, "type": "quantitative"}, "x2": {"datum": 3.48}, "y2": {"datum": 5.3}}},
      {"data": {"values": [{}]}, "mark": {"type": "point", "shape": "M0,0L-0.65,2L0.65,2Z", "filled": true, "color": "#222", "opacity": 1, "size": 256, "angle": 244},
       "encoding": {"x": {"datum": 3.365, "type": "quantitative"}, "y": {"datum": 4.99, "type": "quantitative"}}},
      {"data": {"values": [{}]}, "mark": {"type": "text", "text": "2.4\u2009eV", "fontSize": 22, "align": "center", "baseline": "middle"},
       "encoding": {"x": {"datum": 2.4, "type": "quantitative"}, "y": {"datum": 3.77, "type": "quantitative"}}},
      {"data": {"values": [{}]}, "mark": {"type": "point", "shape": "circle", "filled": false, "stroke": "#d0313a", "strokeWidth": 1, "size": 62},
       "encoding": {"x": {"datum": 2.604, "type": "quantitative"}, "y": {"datum": -2.22, "type": "quantitative"}}},
      {"data": {"values": [{}]}, "mark": {"type": "point", "shape": "circle", "filled": false, "stroke": "#333", "strokeWidth": 1, "size": 62},
       "encoding": {"x": {"datum": 2.604, "type": "quantitative"}, "y": {"datum": -3.33, "type": "quantitative"}}},
      {"data": {"values": [{}]}, "mark": {"type": "text", "text": "Δε₂(ω)", "fontSize": 22, "align": "left", "baseline": "middle"},
       "encoding": {"x": {"datum": 2.694, "type": "quantitative"}, "y": {"datum": -2.22, "type": "quantitative"}}},
      {"data": {"values": [{}]}, "mark": {"type": "text", "text": "Δε₁(ω)", "fontSize": 22, "align": "left", "baseline": "middle"},
       "encoding": {"x": {"datum": 2.694, "type": "quantitative"}, "y": {"datum": -3.33, "type": "quantitative"}}},
      {"data": {"values": [{}]}, "mark": {"type": "text", "text": "200\u2009K–175\u2009K", "fontSize": 22.5, "align": "center", "baseline": "middle"},
       "encoding": {"x": {"datum": 4.84, "type": "quantitative"}, "y": {"datum": -3.48, "type": "quantitative"}}},
      {"data": {"values": [{}]}, "mark": {"type": "text", "text": "SFA,", "fontSize": 22, "fontWeight": "bold", "align": "left", "baseline": "middle"},
       "encoding": {"x": {"datum": 1.467, "type": "quantitative"}, "y": {"datum": 12.61, "type": "quantitative"}}},
      {"data": {"values": [{}]}, "mark": {"type": "text", "text": "T", "fontSize": 22, "fontWeight": "bold", "fontStyle": "italic", "align": "left", "baseline": "middle"},
       "encoding": {"x": {"datum": 1.965, "type": "quantitative"}, "y": {"datum": 12.61, "type": "quantitative"}}},
      {"data": {"values": [{}]}, "mark": {"type": "text", "text": "SDW", "fontSize": 15.5, "fontWeight": "bold", "align": "left", "baseline": "middle"},
       "encoding": {"x": {"datum": 2.09, "type": "quantitative"}, "y": {"datum": 12.2, "type": "quantitative"}}},
      {"data": {"values": [{}]}, "mark": {"type": "text", "text": "= 200\u2009K", "fontSize": 22, "fontWeight": "bold", "align": "left", "baseline": "middle"},
       "encoding": {"x": {"datum": 2.44, "type": "quantitative"}, "y": {"datum": 12.61, "type": "quantitative"}}},
      {"data": {"values": [{}]}, "mark": {"type": "text", "text": "a", "fontSize": 32, "fontWeight": "bold", "align": "center", "baseline": "middle"},
       "encoding": {"x": {"datum": 0.723, "type": "quantitative"}, "y": {"datum": 14.93, "type": "quantitative"}}}
    ]
  },
  {
    "layer": [
      {"data": {"name": "a_ins"}, "mark": {"type": "point", "shape": "circle", "filled": false, "stroke": "#d0313a", "strokeWidth": 1, "size": 72},
       "encoding": {
         "x": {"field": "T", "type": "quantitative", "scale": {"domain": [170, 220], "range": [436, 659], "zero": false, "nice": false},
               "axis": {"orient": "bottom", "offset": -757, "values": [180,190,200,210,220], "labelExpr": "datum.value % 20 === 0 ? format(datum.value, 'd') : ''", "labelPadding": 9, "title": "Temperature (K)", "titleX": 548, "titleY": 58}},
         "y": {"field": "e", "type": "quantitative", "scale": {"domain": [6.66, 6.75], "range": [182, 16.7], "zero": false, "nice": false},
               "axis": {"orient": "left", "offset": -436, "values": [6.66,6.675,6.69,6.705,6.72,6.735,6.75], "labelExpr": "round(datum.value*1000) % 30 === 0 ? format(datum.value, '.2f') : ''", "labelPadding": 8, "title": "ε₂ (T)", "titleX": -87, "titleY": 100, "titleAngle": -90}}
       }},
      {"data": {"values": [{}]}, "mark": {"type": "text", "text": "ℏω = 3.4\u2009eV", "fontSize": 22, "align": "right", "baseline": "middle"},
       "encoding": {"x": {"datum": 218, "type": "quantitative"}, "y": {"datum": 6.6693, "type": "quantitative"}}}
    ]
  },
  {
    "layer": [
      {"data": {"name": "b_curve"}, "transform": [{"filter": "datum.E >= 0.045 && datum.E <= 0.13"}], "mark": {"type": "area", "color": "#cc2229", "opacity": 1},
       "encoding": {
         "x": {"field": "E", "type": "quantitative", "scale": {"domain": [0, 6], "range": [117, 606], "zero": false, "nice": false},
               "axis": {"orient": "bottom", "offset": -71, "values": [0,1,2,3,4,5,6], "labelExpr": "datum.value % 2 === 0 ? format(datum.value, '.1f') : ''", "labelPadding": 9, "title": "Photon energy (eV)", "titleX": 361, "titleY": 57}},
         "y": {"field": "v", "type": "quantitative", "scale": {"domain": [-1.5, 4.5], "range": [867, 556], "zero": false, "nice": false},
               "axis": {"orient": "left", "offset": -117, "values": [-1.5,-0.75,0,0.75,1.5,2.25,3,3.75,4.5], "labelExpr": "round(datum.value*100) % 150 === 0 ? format(datum.value, '.1f') : ''", "labelPadding": 10, "title": "ΔSW (10⁻² eV²)", "titleX": -95, "titleY": 711, "titleAngle": -90}},
         "y2": {"datum": 1.53}
       }},
      {"data": {"name": "b_curve"}, "transform": [{"filter": "datum.E >= 0.13 && datum.E <= 0.51"}], "mark": {"type": "area", "color": "#5165b0", "opacity": 1},
       "encoding": {"x": {"field": "E", "type": "quantitative"}, "y": {"field": "v", "type": "quantitative"}, "y2": {"datum": 1.8}}},
      {"data": {"name": "b_curve"}, "transform": [{"filter": "datum.E >= 0.51 && datum.E <= 2.31"}], "mark": {"type": "area", "color": "#5165b0", "opacity": 1},
       "encoding": {"x": {"field": "E", "type": "quantitative"}, "y": {"field": "v", "type": "quantitative"}, "y2": {"datum": 0}}},
      {"data": {"name": "b_curve"}, "transform": [{"filter": "datum.E >= 2.44 && datum.E <= 4.0"}], "mark": {"type": "area", "color": "#cc2229", "opacity": 1},
       "encoding": {"x": {"field": "E", "type": "quantitative"}, "y": {"field": "v", "type": "quantitative"}, "y2": {"datum": 0}}},
      {"data": {"values": [{}]}, "mark": {"type": "rule", "color": "#333", "strokeWidth": 1},
       "encoding": {"x": {"datum": 0, "type": "quantitative"}, "x2": {"datum": 6}, "y": {"datum": 0, "type": "quantitative"}}},
      {"data": {"name": "b_curve"}, "mark": {"type": "line", "color": "#111", "strokeWidth": 3.4, "interpolate": "monotone"},
       "encoding": {"x": {"field": "E", "type": "quantitative"}, "y": {"field": "v", "type": "quantitative"}}},
      {"data": {"values": [{}]}, "mark": {"type": "rule", "color": "#222", "strokeWidth": 4},
       "encoding": {"x": {"datum": 0.057, "type": "quantitative"}, "y": {"datum": 0, "type": "quantitative"}, "y2": {"datum": 1.05}}},
      {"data": {"values": [{}]}, "mark": {"type": "rule", "color": "white", "strokeWidth": 1.8},
       "encoding": {"x": {"datum": 0.057, "type": "quantitative"}, "y": {"datum": 0.05, "type": "quantitative"}, "y2": {"datum": 1.0}}},
      {"data": {"values": [{}]}, "mark": {"type": "point", "shape": "M0,0L-0.65,2L0.65,2Z", "filled": true, "color": "#111", "opacity": 1, "size": 196, "angle": 0},
       "encoding": {"x": {"datum": 0.062, "type": "quantitative"}, "y": {"datum": 1.27, "type": "quantitative"}}},
      {"data": {"values": [{}]}, "mark": {"type": "point", "shape": "circle", "filled": true, "color": "#cc2229", "stroke": "#222", "strokeWidth": 1, "opacity": 1, "size": 110},
       "encoding": {"x": {"datum": 0.03, "type": "quantitative"}, "y": {"datum": 1.38, "type": "quantitative"}}},
      {"data": {"values": [{}]}, "mark": {"type": "point", "shape": "circle", "filled": true, "color": "#5165b0", "stroke": "#222", "strokeWidth": 1, "opacity": 1, "size": 110},
       "encoding": {"x": {"datum": 0.045, "type": "quantitative"}, "y": {"datum": 0, "type": "quantitative"}}},
      {"data": {"values": [{}]}, "mark": {"type": "text", "text": "200\u2009K–175\u2009K", "fontSize": 22.5, "align": "center", "baseline": "middle"},
       "encoding": {"x": {"datum": 5.03, "type": "quantitative"}, "y": {"datum": -0.89, "type": "quantitative"}}},
      {"data": {"values": [{}]}, "mark": {"type": "text", "text": "b", "fontSize": 32, "fontWeight": "bold", "align": "center", "baseline": "middle"},
       "encoding": {"x": {"datum": -1.215, "type": "quantitative"}, "y": {"datum": 4.54, "type": "quantitative"}}}
    ]
  },
  {
    "layer": [
      {"data": {"values": [{}]}, "mark": {"type": "rule", "color": "#333", "strokeWidth": 1},
       "encoding": {
         "x": {"datum": 0.25, "type": "quantitative", "scale": {"domain": [0.25, 0.75], "range": [273, 662], "zero": false, "nice": false},
               "axis": {"orient": "bottom", "offset": -219, "values": [0.25,0.375,0.5,0.625,0.75], "labelExpr": "round(datum.value*100) % 25 === 0 ? format(datum.value, '.2f') : ''", "labelPadding": 9, "title": "Photon energy (eV)", "titleX": 467, "titleY": 48}},
         "x2": {"datum": 0.75},
         "y": {"datum": 0, "type": "quantitative", "scale": {"domain": [-1.1, 2.1], "range": [719.6, 552], "zero": false, "nice": false},
               "axis": {"orient": "left", "offset": -273, "values": [-1,0,1,2], "labelExpr": "datum.value % 2 === 0 ? format(datum.value, '.1f') : ''", "labelPadding": 5, "title": "Δε₁", "titleX": -63, "titleY": 635, "titleAngle": -90}}
       }},
      {"data": {"name": "b_pts"}, "mark": {"type": "point", "shape": "circle", "filled": false, "stroke": "#333", "strokeWidth": 1, "size": 50},
       "encoding": {"x": {"field": "E", "type": "quantitative"}, "y": {"field": "v", "type": "quantitative"}}},
      {"data": {"name": "b_lines"}, "transform": [{"filter": "datum.s === 'blue'"}], "mark": {"type": "line", "color": "#3d4fa6", "strokeWidth": 1.5},
       "encoding": {"x": {"field": "E", "type": "quantitative"}, "y": {"field": "v", "type": "quantitative"}}},
      {"data": {"name": "b_lines"}, "transform": [{"filter": "datum.s === 'red'"}], "mark": {"type": "line", "color": "#d41f2a", "strokeWidth": 1.5},
       "encoding": {"x": {"field": "E", "type": "quantitative"}, "y": {"field": "v", "type": "quantitative"}}},
      {"data": {"values": [{}]}, "mark": {"type": "point", "shape": "circle", "filled": false, "stroke": "#333", "strokeWidth": 1, "size": 50},
       "encoding": {"x": {"datum": 0.4467, "type": "quantitative"}, "y": {"datum": 1.93, "type": "quantitative"}}},
      {"data": {"values": [{}]}, "mark": {"type": "rule", "color": "#d41f2a", "strokeWidth": 1.8},
       "encoding": {"x": {"datum": 0.421, "type": "quantitative"}, "x2": {"datum": 0.475}, "y": {"datum": 1.41, "type": "quantitative"}}},
      {"data": {"values": [{}]}, "mark": {"type": "rule", "color": "#3d4fa6", "strokeWidth": 1.8},
       "encoding": {"x": {"datum": 0.421, "type": "quantitative"}, "x2": {"datum": 0.475}, "y": {"datum": 0.935, "type": "quantitative"}}},
      {"data": {"values": [{}]}, "mark": {"type": "text", "text": "Experiment", "fontSize": 19, "align": "left", "baseline": "middle"},
       "encoding": {"x": {"datum": 0.4852, "type": "quantitative"}, "y": {"datum": 1.93, "type": "quantitative"}}},
      {"data": {"values": [{}]}, "mark": {"type": "text", "text": "ΔSW(12\u2009meV)\u2009=\u20090.015\u2009eV²", "fontSize": 19, "align": "left", "baseline": "middle"},
       "encoding": {"x": {"datum": 0.4852, "type": "quantitative"}, "y": {"datum": 1.41, "type": "quantitative"}}},
      {"data": {"values": [{}]}, "mark": {"type": "text", "text": "ΔSW(12\u2009meV)\u2009=\u20090", "fontSize": 19, "align": "left", "baseline": "middle"},
       "encoding": {"x": {"datum": 0.4852, "type": "quantitative"}, "y": {"datum": 0.935, "type": "quantitative"}}}
    ]
  }
],
"resolve": {"scale": {"x": "independent", "y": "independent"}, "axis": {"x": "independent", "y": "independent"}}
}
